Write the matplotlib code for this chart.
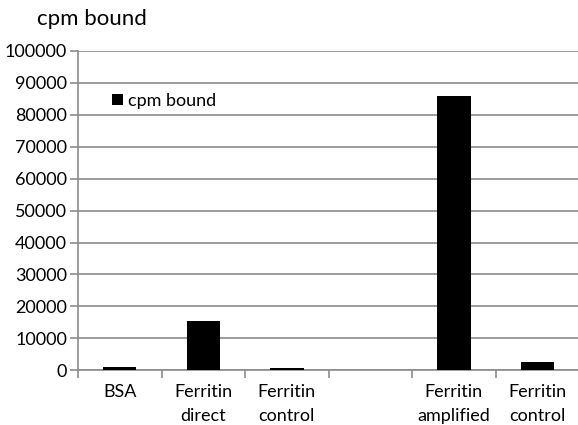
import numpy as np
import matplotlib.pyplot as plt

plt.rcParams['font.family'] = ['Lato', 'DejaVu Sans']

# samples and counts
categories = ['BSA', 'Ferritin\ndirect', 'Ferritin\ncontrol', '', 'Ferritin\namplified', 'Ferritin\ncontrol']
cpm_bound = [850, 15300, 800, 0, 86000, 2700]

fig = plt.figure(figsize=(5.78, 4.25), dpi=100)
ax = fig.add_axes([0.135, 0.129, 0.867, 0.751])

x = np.arange(len(categories))
ax.bar(x, cpm_bound, width=0.4, color='black', label='cpm bound', zorder=3)

ax.set_xlim(-0.5, len(categories) - 0.5)
ax.set_ylim(0, 100000)
ax.set_yticks(np.arange(0, 100001, 10000))
ax.yaxis.grid(True, color='#8c8c8c', linewidth=1.2, zorder=0)

# labels centred under bars, tick marks between categories
ax.set_xticks(x)
ax.set_xticklabels(categories, fontsize=13, linespacing=1.6)
ax.tick_params(axis='x', which='major', length=0, pad=10)
ax.set_xticks(np.arange(-0.5, len(categories), 1), minor=True)
ax.tick_params(axis='x', which='minor', length=6, color='#8c8c8c', width=1.2)
ax.tick_params(axis='y', length=6, color='#8c8c8c', width=1.2, labelsize=13, pad=2)

for side in ['top', 'right']:
    ax.spines[side].set_visible(False)
for side in ['left', 'bottom']:
    ax.spines[side].set_color('#8c8c8c')
    ax.spines[side].set_linewidth(1.2)

fig.text(0.064, 0.955, 'cpm bound', fontsize=16, va='center', ha='left')

ax.legend(loc='upper left', bbox_to_anchor=(0.035, 0.92), frameon=False,
          fontsize=13, handlelength=0.6, handleheight=0.6, handletextpad=0.3)

plt.savefig('out.png', dpi=100)
